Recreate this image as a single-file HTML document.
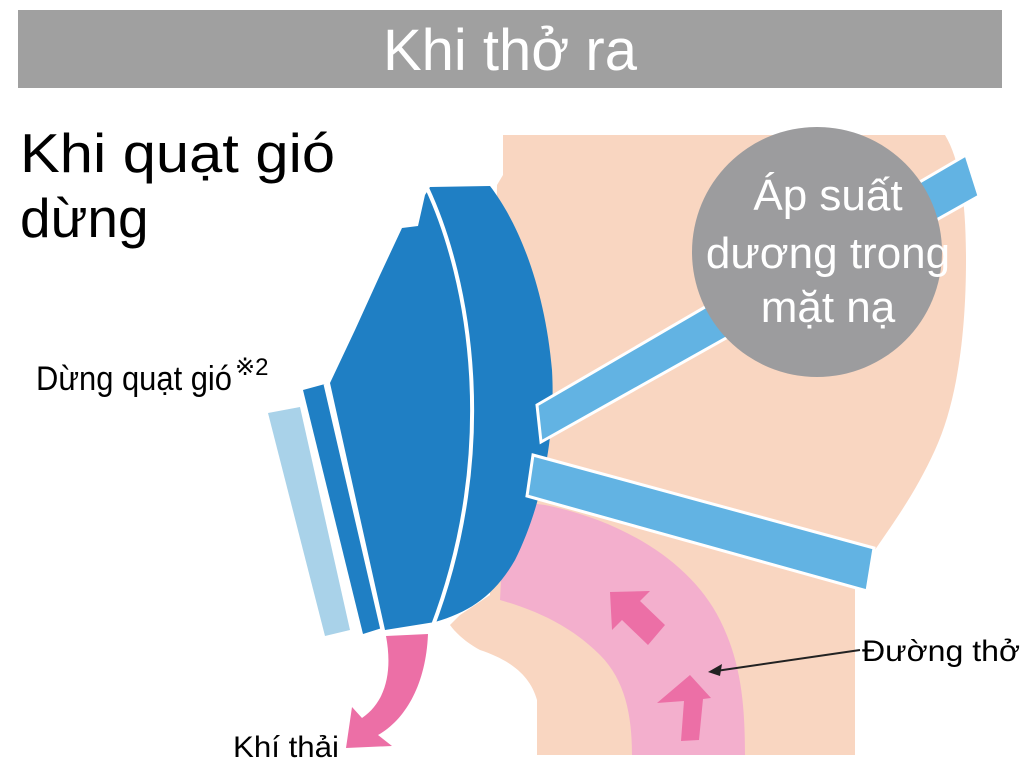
<!DOCTYPE html>
<html><head><meta charset="utf-8"><style>
html,body{margin:0;padding:0;background:#fff;}
svg{display:block;}
text{font-family:"Liberation Sans",Arial,sans-serif;}
</style></head><body>
<svg width="1024" height="775" viewBox="0 0 1024 775" xmlns="http://www.w3.org/2000/svg">
<rect width="1024" height="775" fill="#fff"/>
<rect x="18" y="10" width="984" height="78" fill="#a0a0a0"/>
<text x="510" y="70" font-size="58" fill="#fff" text-anchor="middle">Khi thở ra</text>

<text x="20" y="172" font-size="55" fill="#000" textLength="315" lengthAdjust="spacingAndGlyphs">Khi quạt gió</text>
<text x="20" y="237" font-size="55" fill="#000">dừng</text>
<text x="36" y="390" font-size="34" fill="#000" textLength="196" lengthAdjust="spacingAndGlyphs">Dừng quạt gió</text>
<text x="235" y="375" font-size="24" fill="#000">※2</text>

<!-- head -->
<path d="M503,135 L945,135 C960,160 966,200 966,260 C966,330 958,400 935,450 C910,505 880,540 855,580 L855,755 L537,755 L537,700 C530,675 510,660 480,650 C465,642 455,632 450,625 L460,615 L490,595 L497,185 L503,175 Z" fill="#f9d6c1"/>
<!-- airway -->
<path d="M505,500 L545,505 C620,520 690,560 720,620 C740,660 745,700 745,755 L632,755 C632,715 625,680 600,655 C570,625 535,610 500,600 Z" fill="#f3afcd"/>

<!-- filter -->
<polygon points="268,413 300,407 350,630 325,636" fill="#a9d2e9"/>
<!-- front plate -->
<polygon points="303,390 325,384 382,628 363,634" fill="#1f7fc4"/>
<!-- mask body -->
<path d="M330,383 L355,330 L380,275 L402,228 L418,226 L425,195 L430,187 L490,186 C520,225 545,290 552,370 C556,440 540,510 515,560 C495,595 470,612 435,622 L385,630 Z" fill="#1f7fc4"/>
<path d="M427,188 C470,280 500,450 432,628" fill="none" stroke="#fff" stroke-width="4"/>
<line x1="325" y1="384" x2="382" y2="630" stroke="#fff" stroke-width="3"/>

<!-- straps -->
<polygon points="537,405 966,155 979,196 541,442" fill="#62b3e3" stroke="#fff" stroke-width="3"/>
<polygon points="533,455 874,548 867,591 527,496" fill="#62b3e3" stroke="#fff" stroke-width="3"/>

<!-- circle -->
<circle cx="817" cy="252" r="125" fill="#9c9c9e"/>
<text x="828" y="210" font-size="44" fill="#fff" text-anchor="middle">Áp suất</text>
<text x="828" y="268" font-size="44" fill="#fff" text-anchor="middle">dương trong</text>
<text x="828" y="322" font-size="44" fill="#fff" text-anchor="middle">mặt nạ</text>

<!-- airflow arrows -->
<g fill="#ec6fa6">
<polygon points="610,592 650,591 640,601 665,625 648,645 622,620 612,630"/>
<polygon points="690,675 711,698 703,699 699,740 681,741 684,701 657,703"/>
<path d="M386,636 L428,634 C426,685 405,720 378,735 L392,746 L346,748 L352,707 L362,718 C388,700 392,668 386,636 Z"/>
</g>

<!-- pointer -->
<line x1="860" y1="650" x2="716" y2="671" stroke="#222" stroke-width="2"/>
<polygon points="708,672 722,664 720,676" fill="#222"/>
<text x="862" y="661" font-size="30" fill="#000" textLength="158" lengthAdjust="spacingAndGlyphs">Đường thở</text>
<text x="233" y="757" font-size="30" fill="#000" textLength="106" lengthAdjust="spacingAndGlyphs">Khí thải</text>
</svg>
</body></html>
